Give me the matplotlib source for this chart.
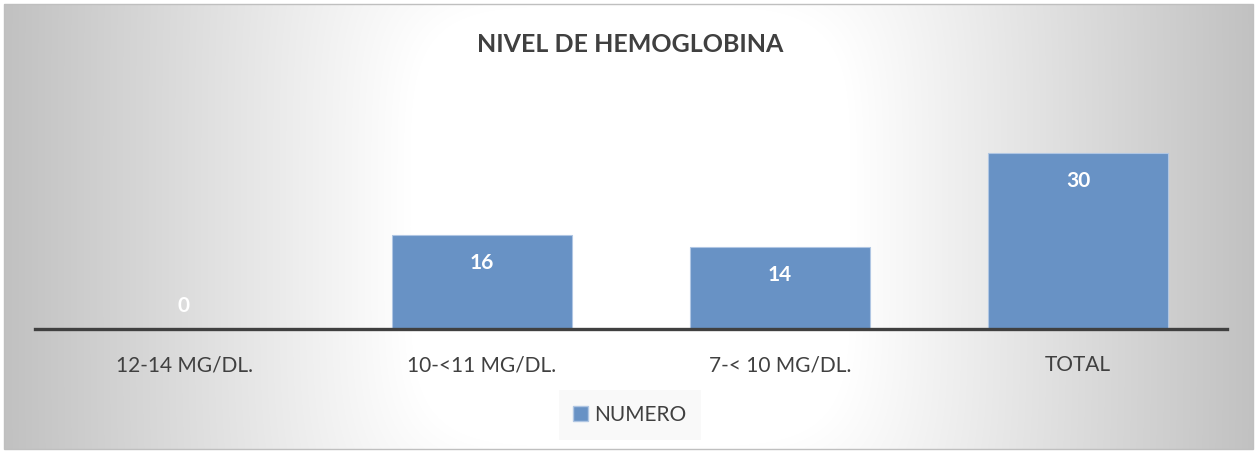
import numpy as np
import matplotlib.pyplot as plt
from matplotlib.patches import Patch, Rectangle

plt.rcParams['font.family'] = ['Lato', 'DejaVu Sans']

categories = ['12-14 MG/DL.', '10-<11 MG/DL.', '7-< 10 MG/DL.', 'TOTAL']
numero = [0, 16, 14, 30]
series_name = 'NUMERO'
title = 'NIVEL DE HEMOGLOBINA'

W, H = 1257, 453
fig = plt.figure(figsize=(W / 100, H / 100), dpi=100)

# white centre fading to grey towards the sides
bg = fig.add_axes([0, 0, 1, 1], zorder=-10)
yy, xx = np.mgrid[0:H, 0:W]
p = 5.0
d = (np.abs(xx - 630.0) ** p + np.abs(yy - 226.0) ** p) ** (1 / p)
t = np.clip((d - 220) / 405.0, 0, 1)
shade = 255 - 62 * t
img = np.dstack([shade, shade, shade]).astype(np.uint8)
img[:4, :] = 255
img[-4:, :] = 255
img[:, :4] = 255
img[:, -4:] = 255
bg.imshow(img, aspect='auto', extent=[0, W, H, 0])
bg.add_patch(Rectangle((4, 4), W - 8, H - 8, fill=False, edgecolor='#bfbfbf', lw=1))
bg.set_xlim(0, W)
bg.set_ylim(H, 0)
bg.axis('off')

ax = fig.add_axes([35 / W, 1 - 329 / H, (1227 - 35) / W, 235 / H])
ax.patch.set_alpha(0)
x = np.arange(len(categories))
bars = ax.bar(x, numero, width=0.604, color='#6892c5', edgecolor='#b0c6e3', linewidth=0.8,
              label=series_name, zorder=2)
ax.set_xlim(-0.5, len(categories) - 0.5)
ax.set_ylim(0, 40)

for xi, v in zip(x, numero):
    off = -28 if v > 0 else 23
    ax.annotate(str(v), (xi, v), xytext=(0, off), textcoords='offset pixels',
                ha='center', va='center', color='white', fontsize=15, fontweight='bold')

for s in ['top', 'right', 'left']:
    ax.spines[s].set_visible(False)
ax.spines['bottom'].set_color('#404040')
ax.spines['bottom'].set_linewidth(2.4)
ax.spines['bottom'].set_zorder(3)
ax.set_yticks([])
ax.set_xticks(x)
ax.set_xticklabels(categories, fontsize=15, color='#404040')
ax.tick_params(axis='x', length=0, pad=19)

fig.text(630 / W, 1 - 45 / H, title, ha='center', va='center', fontsize=18,
         fontweight='bold', color='#404040')

handle = Patch(facecolor='#6892c5', edgecolor='#b0c6e3', label=series_name)
leg = fig.legend(handles=[handle], loc='center', bbox_to_anchor=(630 / W, 1 - 415 / H),
                 frameon=True, fancybox=False, fontsize=15, handlelength=0.7,
                 handleheight=0.7, handletextpad=0.3, borderpad=0.7, borderaxespad=0)
leg.get_frame().set_facecolor('#f8f8f8')
leg.get_frame().set_edgecolor('none')
for t_ in leg.get_texts():
    t_.set_color('#404040')

fig.savefig('out.png', dpi=100)
